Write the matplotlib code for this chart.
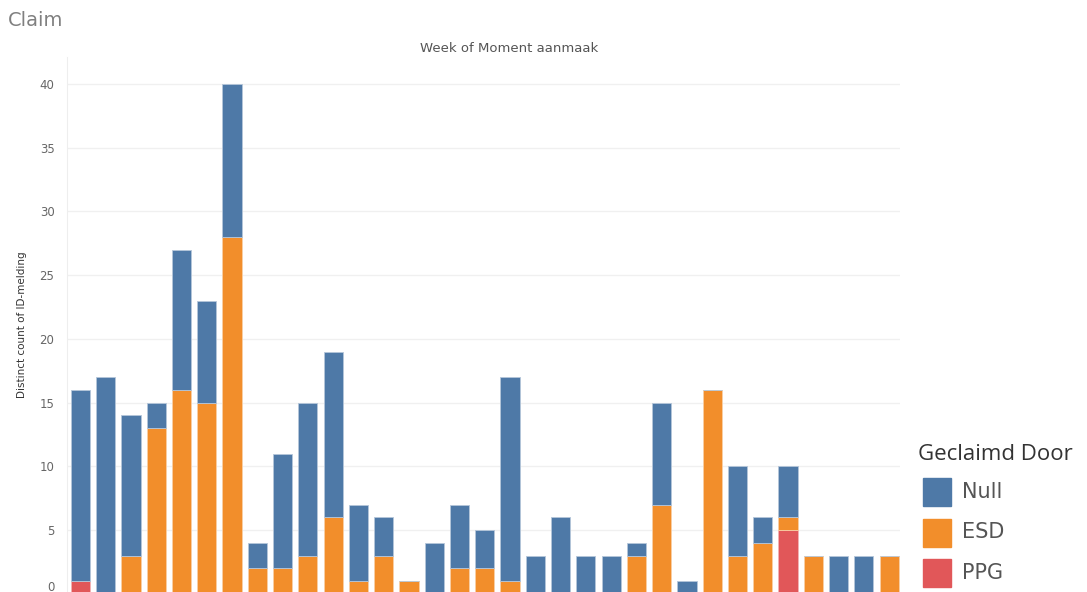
import matplotlib.pyplot as plt
from matplotlib.patches import Rectangle
from matplotlib.transforms import ScaledTranslation
import numpy as np

# stacked counts per week (bottom to top: PPG, ESD, Null)
ppg = [1, 0, 0, 0, 0, 0, 0, 0, 0, 0, 0, 0, 0, 0, 0, 0, 0,
       0, 0, 0, 0, 0, 0, 0, 0, 0, 0, 0, 5, 0, 0, 0, 0]
esd = [0, 0, 3, 13, 16, 15, 28, 2, 2, 3, 6, 1, 3, 1, 0, 2, 2,
       1, 0, 0, 0, 0, 3, 7, 0, 16, 3, 4, 1, 3, 0, 0, 3]
null = [15, 17, 11, 2, 11, 8, 12, 2, 9, 12, 13, 6, 3, 0, 4, 5, 3,
        16, 3, 6, 3, 3, 1, 8, 1, 0, 7, 2, 4, 0, 3, 3, 0]

series = ['Null', 'ESD', 'PPG']
colors = {'Null': '#4e79a7', 'ESD': '#f28e2b', 'PPG': '#e15759'}
yticks = [0, 5, 10, 15, 20, 25, 30, 35, 40]

W, H = 1087, 592
fig = plt.figure(figsize=(W / 100, H / 100), dpi=100)
ax = fig.add_axes([67 / W, -2 / H, 833 / W, 537 / H])

x = np.arange(len(null))
ppg_a, esd_a, null_a = np.array(ppg), np.array(esd), np.array(null)
kw = dict(width=0.76, linewidth=0.6, zorder=3)
ax.bar(x, ppg_a, color=colors['PPG'], edgecolor='#f3b3b4', **kw)
ax.bar(x, esd_a, bottom=ppg_a, color=colors['ESD'], edgecolor='#f9cfa5', **kw)
ax.bar(x, null_a, bottom=ppg_a + esd_a, color=colors['Null'], edgecolor='#b5c6da', **kw)

ax.set_xlim(-0.53, len(null) - 0.57)
ax.set_ylim(0, 42.1)
ax.set_yticks(yticks)
ax.set_xticks([])
ax.tick_params(axis='y', length=0, pad=9, labelsize=8.5, labelcolor='#666666')
ax.grid(axis='y', color='#f0f0f0', linewidth=1, zorder=0)
for s in ['top', 'right', 'bottom']:
    ax.spines[s].set_visible(False)
ax.spines['left'].set_color('#eeeeee')

# lift the "0" label a little so it is not cut by the bottom edge
fig.canvas.draw()
lab0 = ax.get_yticklabels()[0]
lab0.set_transform(lab0.get_transform() + ScaledTranslation(0, 8 / 100, fig.dpi_scale_trans))

fig.text(22 / W, 1 - 325 / H, 'Distinct count of ID-melding', rotation=90,
         ha='center', va='center', fontsize=7.5, color='#333333',
         family=['Liberation Sans Narrow', 'DejaVu Sans'])
fig.text(509 / W, 1 - 48 / H, 'Week of Moment aanmaak', ha='center', va='center',
         fontsize=9.5, color='#555555')
fig.text(8 / W, 1 - 20 / H, 'Claim', ha='left', va='center', fontsize=14,
         color='#808080')

# legend
fig.text(918 / W, 1 - 455 / H, 'Geclaimd Door', ha='left', va='center',
         fontsize=16, color='#333333', family=['Open Sans', 'DejaVu Sans'])
for i, name in enumerate(series):
    yc = 492 + i * 40.5
    fig.add_artist(Rectangle((923 / W, 1 - (yc + 14) / H), 28 / W, 28 / H,
                             transform=fig.transFigure, color=colors[name]))
    fig.text(962 / W, 1 - yc / H, name, ha='left', va='center', fontsize=15,
             color='#555555', family=['Liberation Sans Narrow', 'DejaVu Sans'])

fig.savefig('out.png', dpi=100)
